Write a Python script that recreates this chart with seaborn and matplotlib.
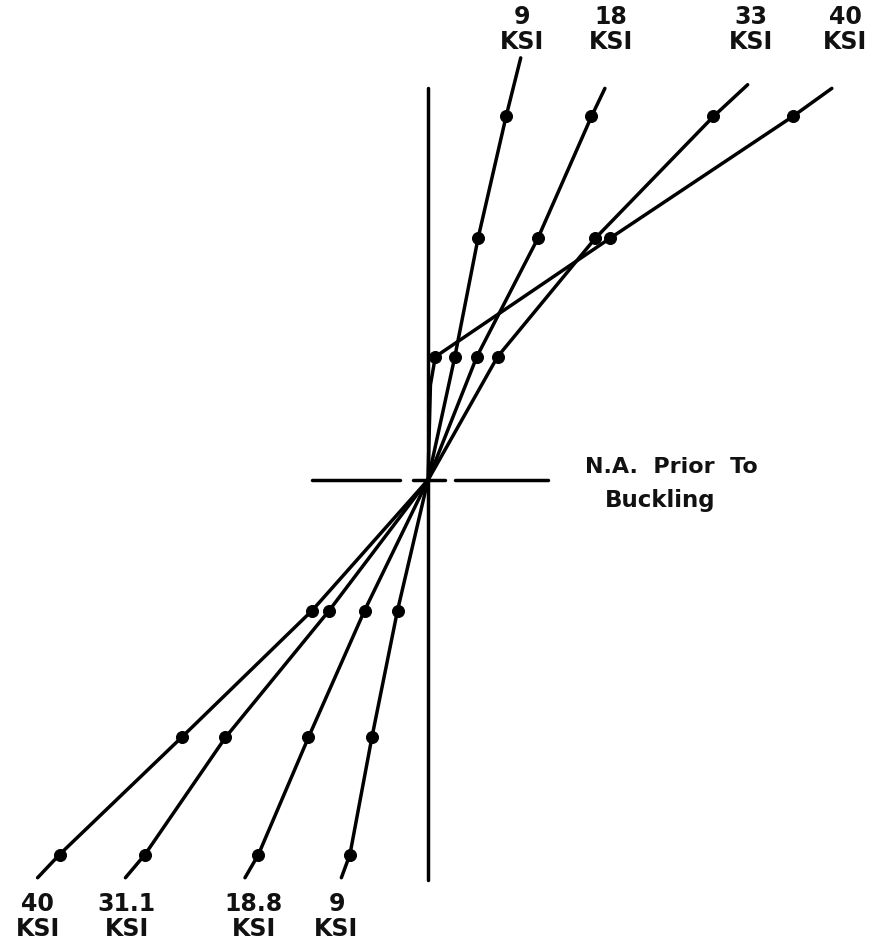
import matplotlib
matplotlib.use("Agg")
import matplotlib.pyplot as plt
import seaborn as sns
import pandas as pd

# strain distribution across the section at several stress levels
# h = distance from neutral axis, e = strain (arbitrary units)
top_labels = ["9\nKSI", "18\nKSI", "33\nKSI", "40\nKSI"]
top_h_9 = [0.0, 1.01, 1.98, 2.98, 3.46]
top_e_9 = [0.0, 0.22, 0.41, 0.64, 0.76]
top_h_18 = [0.0, 1.01, 1.98, 2.98, 3.21]
top_e_18 = [0.0, 0.40, 0.90, 1.34, 1.45]
top_h_33 = [0.0, 1.01, 1.98, 2.98, 3.24]
top_e_33 = [0.0, 0.57, 1.37, 2.34, 2.62]
top_h_40 = [0.0, 0.78, 1.01, 1.98, 2.98, 3.21]
top_e_40 = [0.0, 0.02, 0.06, 1.49, 2.99, 3.31]

bot_labels = ["40\nKSI", "31.1\nKSI", "18.8\nKSI", "9\nKSI"]
bot_h = [0.0, -1.07, -2.11, -3.07, -3.26]
bot_e_40 = [0.0, -0.95, -2.02, -3.02, -3.20]
bot_e_31 = [0.0, -0.81, -1.66, -2.32, -2.48]
bot_e_18 = [0.0, -0.52, -0.98, -1.39, -1.50]
bot_e_9 = [0.0, -0.25, -0.46, -0.64, -0.71]

# gauge levels (dots); first point = N.A., last = line end
top_dot_h = [1.01, 1.98, 2.98]
bot_dot_h = [-1.07, -2.11, -3.07]

rows = []
def addSeries(name, hs, es):
    for h, e in zip(hs, es):
        rows.append({"series": name, "h": h, "e": e})

addSeries("t9", top_h_9, top_e_9)
addSeries("t18", top_h_18, top_e_18)
addSeries("t33", top_h_33, top_e_33)
addSeries("t40", top_h_40, top_e_40)
addSeries("b40", bot_h, bot_e_40)
addSeries("b31", bot_h, bot_e_31)
addSeries("b18", bot_h, bot_e_18)
addSeries("b9", bot_h, bot_e_9)
df = pd.DataFrame(rows)
dots = df[df["h"].isin(top_dot_h + bot_dot_h)]

sns.set_theme(style="white")
plt.rcParams["font.family"] = ["DejaVu Sans"]

fig = plt.figure(figsize=(8.74, 9.49), dpi=100)
ax = fig.add_axes([0, 0, 1, 1])

for name, grp in df.groupby("series", sort=False):
    sns.lineplot(data=grp, x="e", y="h", sort=False, estimator=None,
                 color="black", linewidth=2.5, ax=ax)
sns.scatterplot(data=dots, x="e", y="h", color="black", s=75,
                edgecolor="black", ax=ax, zorder=5)

# reference axis and neutral axis prior to buckling
ax.plot([0, 0], [3.21, -3.28], color="black", linewidth=2.5)
for x0, x1 in [(-0.95, -0.23), (-0.12, 0.14), (0.22, 0.98)]:
    ax.plot([x0, x1], [0, 0], color="black", linewidth=2.5)

lab = dict(fontsize=17, fontweight="bold", ha="center", va="top",
           linespacing=1.05, color="#111111")
for txt, x in zip(top_labels, [0.77, 1.50, 2.65, 3.42]):
    ax.text(x, 3.89, txt, **lab)
for txt, x in zip(bot_labels, [-3.20, -2.47, -1.43, -0.75]):
    ax.text(x, -3.38, txt, **lab)

ax.text(1.29, 0.107, "N.A.  Prior  To", fontsize=16, fontweight="bold",
        ha="left", va="center", color="#111111")
ax.text(1.45, -0.164, "Buckling", fontsize=16.5, fontweight="bold",
        ha="left", va="center", color="#111111")

ax.set_xlim(-428 / 122, (874 - 428) / 122)
ax.set_ylim(-(949 - 480) / 122, 480 / 122)
ax.set_axis_off()

fig.savefig("out.png", dpi=100, facecolor="white")
